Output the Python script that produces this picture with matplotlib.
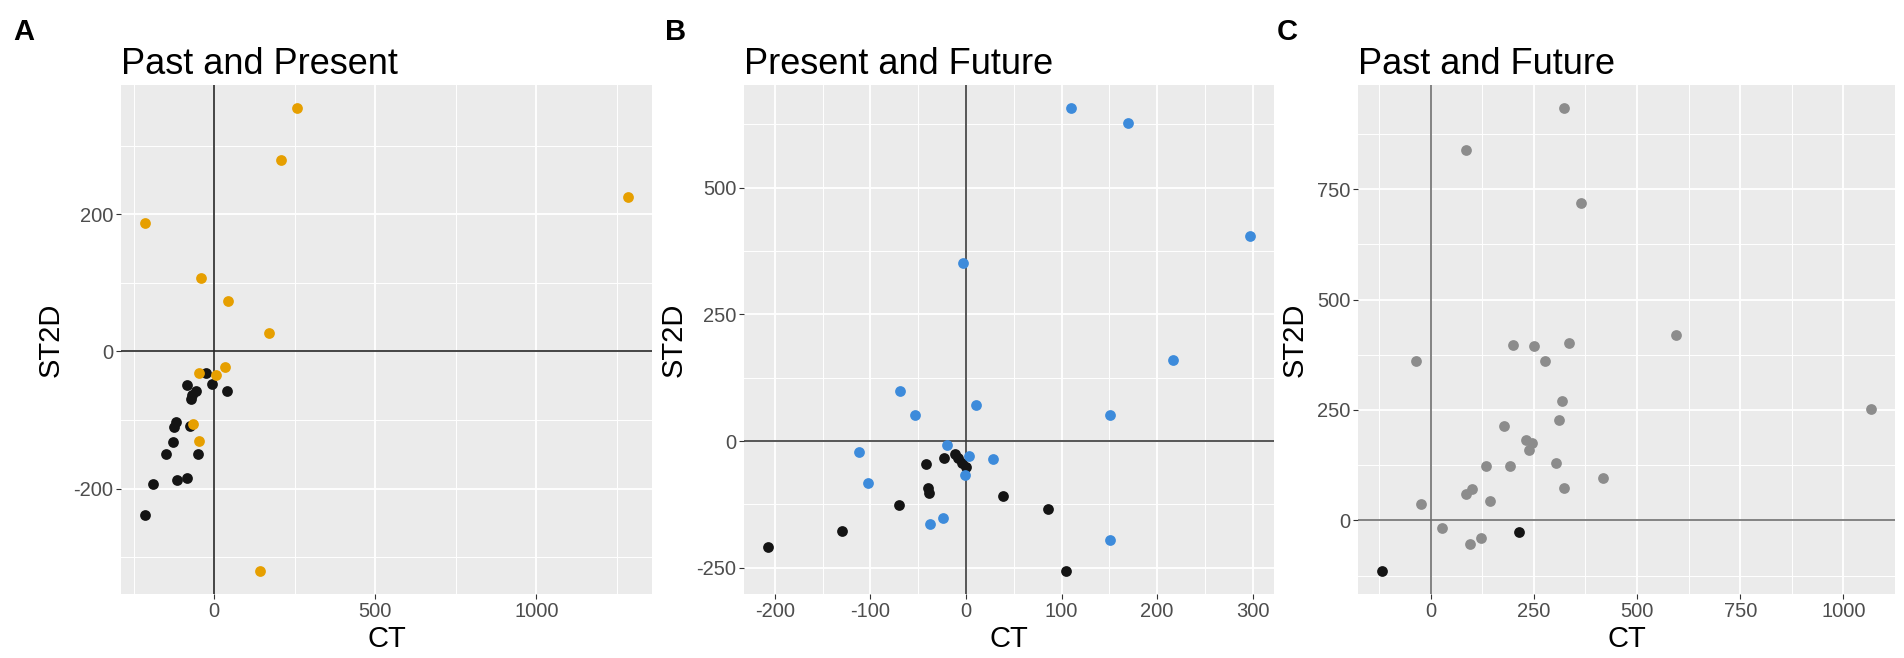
import matplotlib
matplotlib.use("Agg")
import matplotlib.pyplot as plt
from matplotlib.ticker import MultipleLocator

plt.rcParams['font.family'] = ['Liberation Sans', 'DejaVu Sans']
plt.rcParams['axes.unicode_minus'] = False

# panel A: Past and Present
pp_col_x = [257, 207, -214, -40, 44, 171, 34, -46, 5, -64, -47, 141, 1284]
pp_col_y = [355, 280, 188, 107, 74, 27, -23, -32, -35, -106, -130, -320, 226]
pp_blk_x = [-25, -5, -85, -56, -68, -73, 41, -119, -123, -74, -126, -149, -51, -191, -114, -84, -213]
pp_blk_y = [-31, -47, -49, -57, -64, -70, -58, -103, -110, -109, -132, -149, -149, -194, -188, -185, -238]

# panel B: Present and Future
pf_col_x = [-3, -69, -53, 11, -20, -112, 3, 28, -102, -1, -24, -38, 110, 170, 297, 217, 151, 151]
pf_col_y = [352, 98, 51, 71, -7, -22, -30, -36, -82, -67, -152, -163, 657, 627, 405, 161, 51, -195]
pf_blk_x = [-23, -12, -8, -4, 0, -42, -40, -39, 39, -70, 86, -130, -207, 105]
pf_blk_y = [-33, -26, -33, -43, -52, -45, -92, -102, -108, -126, -133, -177, -208, -256]

# panel C: Past and Future
pa_col_x = [324, 86, 364, -36, 199, 250, 277, 335, 318, 311, 177, 230, 245, 239,
            135, 191, 304, 86, 101, 143, 324, -24, 28, 95, 123, 594, 417, 1066]
pa_col_y = [933, 839, 718, 361, 396, 394, 361, 401, 270, 227, 213, 183, 176, 159,
            124, 123, 130, 60, 71, 45, 73, 37, -17, -53, -40, 419, 96, 253]
pa_blk_x = [214, -117]
pa_blk_y = [-27, -114]

panels = [
    ('A', 'Past and Present', pp_col_x, pp_col_y, pp_blk_x, pp_blk_y, '#E69F00', '#262626', (500, 250), (200, 100)),
    ('B', 'Present and Future', pf_col_x, pf_col_y, pf_blk_x, pf_blk_y, '#3D8BDB', '#3a3a3a', (100, 50), (250, 125)),
    ('C', 'Past and Future', pa_col_x, pa_col_y, pa_blk_x, pa_blk_y, '#8C8C8C', '#6e6e6e', (250, 125), (250, 125)),
]

W, H = 1904, 658
fig = plt.figure(figsize=(W / 100, H / 100), dpi=100)
boxes = [(121, 652), (744, 1274), (1358, 1895)]
letter_x = [13, 665, 1277]
top, bot = 85, 594

for (letter, title, cx, cy, bx, by, col, zcol, xt, yt), (l, r), lx in zip(panels, boxes, letter_x):
    ax = fig.add_axes([l / W, 1 - bot / H, (r - l) / W, (bot - top) / H])
    ax.set_facecolor('#EBEBEB')
    for s in ax.spines.values():
        s.set_visible(False)
    ax.xaxis.set_major_locator(MultipleLocator(xt[0]))
    ax.xaxis.set_minor_locator(MultipleLocator(xt[1]))
    ax.yaxis.set_major_locator(MultipleLocator(yt[0]))
    ax.yaxis.set_minor_locator(MultipleLocator(yt[1]))
    ax.grid(which='major', color='white', lw=1.3)
    ax.grid(which='minor', color='white', lw=0.7)
    ax.set_axisbelow(True)
    ax.tick_params(which='minor', length=0)
    ax.tick_params(which='major', length=3.5, width=0.8, color='#333333',
                   labelcolor='#4D4D4D', labelsize=14.5, pad=2)
    ax.axhline(0, color=zcol, lw=1.2, zorder=1.5)
    ax.axvline(0, color=zcol, lw=1.2, zorder=1.5)
    ax.scatter(bx, by, s=60, color='#141414', linewidths=0, zorder=3)
    ax.scatter(cx, cy, s=60, color=col, linewidths=0, zorder=3)
    allx = cx + bx
    ally = cy + by
    dx = (max(allx) - min(allx)) * 0.05
    dy = (max(ally) - min(ally)) * 0.05
    ax.set_xlim(min(allx) - dx, max(allx) + dx)
    ax.set_ylim(min(ally) - dy, max(ally) + dy)
    ax.set_xlabel('CT', fontsize=21, labelpad=3)
    ax.set_ylabel('ST2D', fontsize=21, labelpad=6)
    ax.set_title(title, loc='left', fontsize=26, pad=8)
    fig.text(lx / W, 1 - 18 / H, letter, fontsize=21, fontweight='bold', va='top', ha='left')

plt.savefig('out.png', dpi=100)
